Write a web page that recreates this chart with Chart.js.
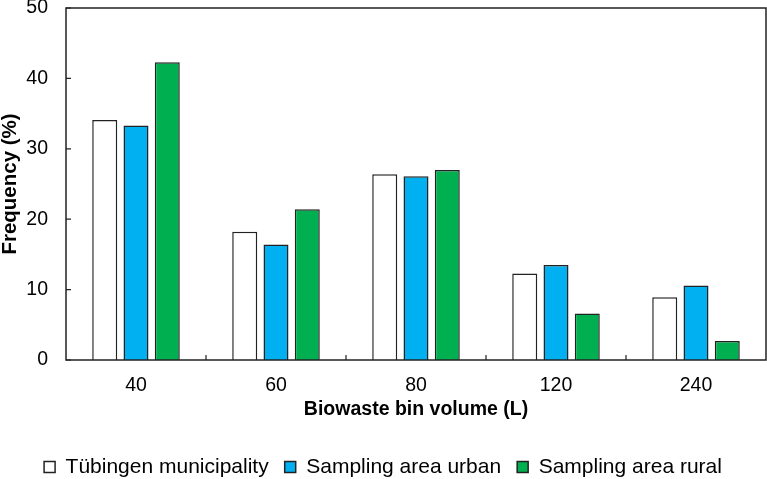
<!DOCTYPE html>
<html>
<head>
<meta charset="utf-8">
<script src="https://cdn.jsdelivr.net/npm/chart.js@4"></script>
<style>
  html, body { margin: 0; padding: 0; background: #fff; }
  #wrap { width: 767px; height: 479px; position: relative; }
</style>
</head>
<body>
<div id="wrap"><canvas id="binChart"></canvas></div>
<script>
// ─── Data ─────────────────────────────────────────────
const binVolumes   = ['40', '60', '80', '120', '240'];
const tuebingen    = [34.1, 18.2, 26.4, 12.3, 8.9];
const urbanArea    = [33.3, 16.4, 26.1, 13.5, 10.6];
const ruralArea    = [42.3, 21.4, 27.0, 6.6, 2.7];
const yTicks       = [0, 10, 20, 30, 40, 50];

const FONT = "'Liberation Sans', Arial, sans-serif";

// frame + inward tick marks
const framePlugin = {
    id: 'frame',
    afterDraw(chart) {
        const { ctx, chartArea: a, scales } = chart;
        ctx.save();
        ctx.strokeStyle = '#222';
        ctx.lineWidth = 1.5;
        ctx.strokeRect(a.left, a.top, a.right - a.left, a.bottom - a.top);
        ctx.lineWidth = 1.2;
        ctx.beginPath();
        yTicks.forEach(v => {
            const y = scales.y.getPixelForValue(v);
            ctx.moveTo(a.left, y); ctx.lineTo(a.left + 5, y);
        });
        for (let i = 0; i < binVolumes.length - 1; i++) {
            const x = (scales.x.getPixelForTick(i) + scales.x.getPixelForTick(i + 1)) / 2;
            ctx.moveTo(x, a.bottom); ctx.lineTo(x, a.bottom - 5);
        }
        ctx.stroke();
        ctx.restore();
    }
};

const barStyle = { borderColor: '#222', borderWidth: 1.5, categoryPercentage: 0.67, barPercentage: 0.8 };

new Chart(document.getElementById('binChart'), {
    type: 'bar',
    data: {
        labels: binVolumes,
        datasets: [
            { label: 'Tübingen municipality', data: tuebingen, backgroundColor: '#ffffff', ...barStyle },
            { label: 'Sampling area urban',   data: urbanArea, backgroundColor: '#00b0f0', ...barStyle },
            { label: 'Sampling area rural',   data: ruralArea, backgroundColor: '#00b050', ...barStyle }
        ]
    },
    options: {
        responsive: true,
        maintainAspectRatio: false,
        animation: false,
        layout: { padding: { top: 8, right: 1, left: 0, bottom: -8.5 } },
        plugins: {
            tooltip: { enabled: false },
            legend: {
                position: 'bottom',
                labels: {
                    color: '#000',
                    font: { family: FONT, size: 21 },
                    boxWidth: 11,
                    boxHeight: 11,
                    padding: 16
                }
            }
        },
        scales: {
            x: {
                grid: { display: false, drawTicks: false },
                border: { display: false },
                ticks: { color: '#000', font: { family: FONT, size: 19.5 }, padding: 14 },
                title: { display: true, text: 'Biowaste bin volume (L)', color: '#000',
                         font: { family: FONT, size: 19.5, weight: 'bold', lineHeight: 1 },
                         padding: { top: 0, bottom: 20.75 } },
                afterFit: s => { s.height = 80.5; }
            },
            y: {
                min: 0, max: 50,
                afterBuildTicks: s => { s.ticks = yTicks.map(v => ({ value: v })); },
                grid: { display: false, drawTicks: false },
                border: { display: false },
                ticks: { color: '#000', font: { family: FONT, size: 19.5 }, padding: 18 },
                title: { display: true, text: 'Frequency (%)', color: '#000',
                         font: { family: FONT, size: 20.5, weight: 'bold', lineHeight: 1 },
                         padding: { top: 0, bottom: 0 } },
                afterFit: s => { s.width = 66; s.paddingTop = 0; }
            }
        }
    },
    plugins: [framePlugin]
});
</script>
</body>
</html>
